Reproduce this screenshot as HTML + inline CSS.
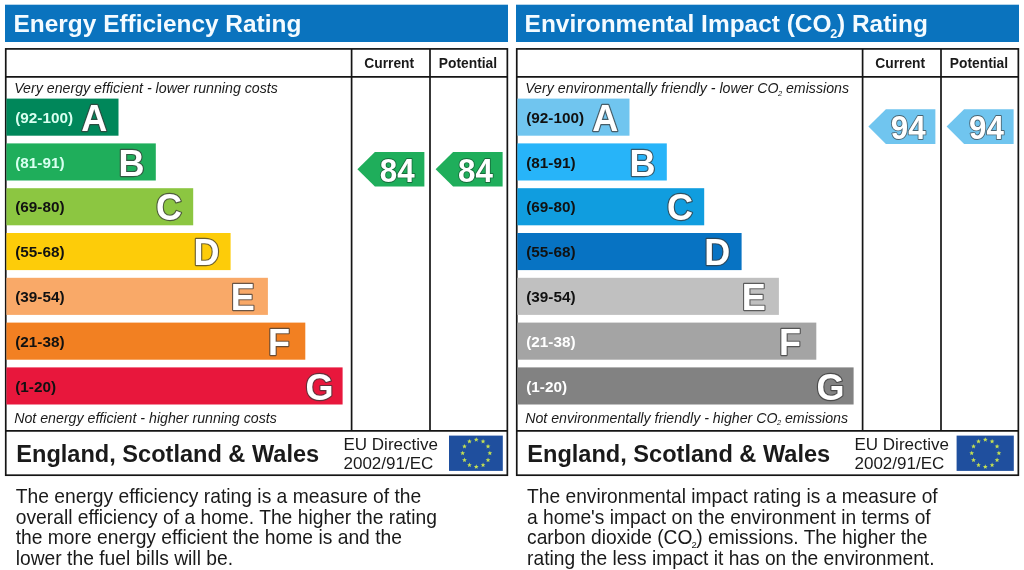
<!DOCTYPE html>
<html lang="en"><head><meta charset="utf-8"><title>Energy Performance Certificate</title>
<style>
html,body{margin:0;padding:0;background:#fff;}
body{width:1024px;height:570px;overflow:hidden;}
svg{display:block;font-family:"Liberation Sans", Arial, Helvetica, sans-serif;}
</style></head><body>
<svg width="1024" height="570" viewBox="0 0 1024 570">
<rect width="1024" height="570" fill="#fff"/>
<g fill="#1a1a1a">
<rect x="5" y="4.7" width="503" height="37.3" fill="#0a73be"/>
<text x="13.5" y="32.3" font-weight="bold" font-size="24.45" fill="#f4fbff">Energy Efficiency Rating</text>
<rect x="5.75" y="48.9" width="501.6" height="426.3" fill="#fff" stroke="#151515" stroke-width="1.7"/>
<line x1="5" y1="76.9" x2="508" y2="76.9" stroke="#151515" stroke-width="1.7"/>
<line x1="5" y1="430.8" x2="508" y2="430.8" stroke="#151515" stroke-width="1.7"/>
<line x1="351.6" y1="48.9" x2="351.6" y2="430.8" stroke="#151515" stroke-width="1.7"/>
<line x1="430" y1="48.9" x2="430" y2="430.8" stroke="#151515" stroke-width="1.7"/>
<text x="389.2" y="68.3" text-anchor="middle" font-weight="bold" font-size="13.8">Current</text>
<text x="468" y="68.3" text-anchor="middle" font-weight="bold" font-size="13.8">Potential</text>
<text x="14.2" y="93" font-style="italic" font-size="14.2">Very energy efficient - lower running costs</text>
<text x="14.2" y="422.6" font-style="italic" font-size="14.2">Not energy efficient - higher running costs</text>
<rect x="6.4" y="98.6" width="112.1" height="37.1" fill="#00875a"/>
<text x="15.2" y="122.8" font-weight="bold" font-size="15.3" fill="#d8fff0">(92-100)</text>
<text x="81.3" y="130.8" font-weight="bold" font-size="36" fill="#fff" stroke="#3a3a3a" stroke-opacity="0.75" stroke-width="2.3" paint-order="stroke" stroke-linejoin="round">A</text>
<rect x="6.4" y="143.4" width="149.4" height="37.1" fill="#1fae5b"/>
<text x="15.2" y="167.6" font-weight="bold" font-size="15.3" fill="#d8fff0">(81-91)</text>
<text x="118.6" y="175.6" font-weight="bold" font-size="36" fill="#fff" stroke="#3a3a3a" stroke-opacity="0.75" stroke-width="2.3" paint-order="stroke" stroke-linejoin="round">B</text>
<rect x="6.4" y="188.2" width="186.8" height="37.1" fill="#8cc641"/>
<text x="15.2" y="212.4" font-weight="bold" font-size="15.3" fill="#111">(69-80)</text>
<text x="156.0" y="220.4" font-weight="bold" font-size="36" fill="#fff" stroke="#3a3a3a" stroke-opacity="0.75" stroke-width="2.3" paint-order="stroke" stroke-linejoin="round">C</text>
<rect x="6.4" y="233.0" width="224.2" height="37.1" fill="#fdcc09"/>
<text x="15.2" y="257.2" font-weight="bold" font-size="15.3" fill="#111">(55-68)</text>
<text x="193.4" y="265.2" font-weight="bold" font-size="36" fill="#fff" stroke="#3a3a3a" stroke-opacity="0.75" stroke-width="2.3" paint-order="stroke" stroke-linejoin="round">D</text>
<rect x="6.4" y="277.8" width="261.5" height="37.1" fill="#f9a968"/>
<text x="15.2" y="302.0" font-weight="bold" font-size="15.3" fill="#111">(39-54)</text>
<text x="230.7" y="310.0" font-weight="bold" font-size="36" fill="#fff" stroke="#3a3a3a" stroke-opacity="0.75" stroke-width="2.3" paint-order="stroke" stroke-linejoin="round">E</text>
<rect x="6.4" y="322.6" width="298.9" height="37.1" fill="#f28022"/>
<text x="15.2" y="346.8" font-weight="bold" font-size="15.3" fill="#111">(21-38)</text>
<text x="268.1" y="354.8" font-weight="bold" font-size="36" fill="#fff" stroke="#3a3a3a" stroke-opacity="0.75" stroke-width="2.3" paint-order="stroke" stroke-linejoin="round">F</text>
<rect x="6.4" y="367.4" width="336.2" height="37.1" fill="#e8173c"/>
<text x="15.2" y="391.6" font-weight="bold" font-size="15.3" fill="#111">(1-20)</text>
<text x="305.4" y="399.6" font-weight="bold" font-size="36" fill="#fff" stroke="#3a3a3a" stroke-opacity="0.75" stroke-width="2.3" paint-order="stroke" stroke-linejoin="round">G</text>
<polygon points="357.4,169.2 374.9,152.0 424.4,152.0 424.4,186.6 374.9,186.6" fill="#1fae5b"/>
<text transform="translate(397.3,181.5) scale(0.95,1)" x="0" y="0" text-anchor="middle" font-weight="bold" font-size="33" fill="#fff" stroke="#14502e" stroke-opacity="0.7" stroke-width="1.8" paint-order="stroke" stroke-linejoin="round">84</text>
<polygon points="435.6,169.2 453.1,152.0 502.6,152.0 502.6,186.6 453.1,186.6" fill="#1fae5b"/>
<text transform="translate(475.5,181.5) scale(0.95,1)" x="0" y="0" text-anchor="middle" font-weight="bold" font-size="33" fill="#fff" stroke="#14502e" stroke-opacity="0.7" stroke-width="1.8" paint-order="stroke" stroke-linejoin="round">84</text>
<text x="16.3" y="461.7" font-weight="bold" font-size="23.57">England, Scotland &amp; Wales</text>
<text x="343.5" y="449.5" font-size="17">EU Directive</text>
<text x="343.5" y="468.5" font-size="17">2002/91/EC</text>
<rect x="449" y="435.6" width="53.8" height="35.3" fill="#1f4f9e"/>
<polygon points="476.25,437.15 476.90,438.76 478.63,438.88 477.30,439.99 477.72,441.67 476.25,440.75 474.78,441.67 475.20,439.99 473.87,438.88 475.60,438.76" fill="#c4e052"/>
<polygon points="483.05,438.97 483.70,440.58 485.43,440.70 484.10,441.81 484.52,443.49 483.05,442.57 481.58,443.49 482.00,441.81 480.67,440.70 482.40,440.58" fill="#c4e052"/>
<polygon points="488.03,443.95 488.67,445.56 490.41,445.68 489.07,446.79 489.50,448.47 488.03,447.55 486.56,448.47 486.98,446.79 485.65,445.68 487.38,445.56" fill="#c4e052"/>
<polygon points="489.85,450.75 490.50,452.36 492.23,452.48 490.90,453.59 491.32,455.27 489.85,454.35 488.38,455.27 488.80,453.59 487.47,452.48 489.20,452.36" fill="#c4e052"/>
<polygon points="488.03,457.55 488.67,459.16 490.41,459.28 489.07,460.39 489.50,462.07 488.03,461.15 486.56,462.07 486.98,460.39 485.65,459.28 487.38,459.16" fill="#c4e052"/>
<polygon points="483.05,462.53 483.70,464.14 485.43,464.26 484.10,465.37 484.52,467.05 483.05,466.13 481.58,467.05 482.00,465.37 480.67,464.26 482.40,464.14" fill="#c4e052"/>
<polygon points="476.25,464.35 476.90,465.96 478.63,466.08 477.30,467.19 477.72,468.87 476.25,467.95 474.78,468.87 475.20,467.19 473.87,466.08 475.60,465.96" fill="#c4e052"/>
<polygon points="469.45,462.53 470.10,464.14 471.83,464.26 470.50,465.37 470.92,467.05 469.45,466.13 467.98,467.05 468.40,465.37 467.07,464.26 468.80,464.14" fill="#c4e052"/>
<polygon points="464.47,457.55 465.12,459.16 466.85,459.28 465.52,460.39 465.94,462.07 464.47,461.15 463.00,462.07 463.43,460.39 462.09,459.28 463.83,459.16" fill="#c4e052"/>
<polygon points="462.65,450.75 463.30,452.36 465.03,452.48 463.70,453.59 464.12,455.27 462.65,454.35 461.18,455.27 461.60,453.59 460.27,452.48 462.00,452.36" fill="#c4e052"/>
<polygon points="464.47,443.95 465.12,445.56 466.85,445.68 465.52,446.79 465.94,448.47 464.47,447.55 463.00,448.47 463.43,446.79 462.09,445.68 463.83,445.56" fill="#c4e052"/>
<polygon points="469.45,438.97 470.10,440.58 471.83,440.70 470.50,441.81 470.92,443.49 469.45,442.57 467.98,443.49 468.40,441.81 467.07,440.70 468.80,440.58" fill="#c4e052"/>
<rect x="516" y="4.7" width="503" height="37.3" fill="#0a73be"/>
<text x="524.6" y="32.3" font-weight="bold" font-size="24.45" fill="#f4fbff">Environmental Impact (CO<tspan font-size="12.6" dy="5.7" dx="-1.2">2</tspan><tspan dy="-5.7" dx="-0.3">) Rating</tspan></text>
<rect x="516.75" y="48.9" width="501.6" height="426.3" fill="#fff" stroke="#151515" stroke-width="1.7"/>
<line x1="516" y1="76.9" x2="1019" y2="76.9" stroke="#151515" stroke-width="1.7"/>
<line x1="516" y1="430.8" x2="1019" y2="430.8" stroke="#151515" stroke-width="1.7"/>
<line x1="862.6" y1="48.9" x2="862.6" y2="430.8" stroke="#151515" stroke-width="1.7"/>
<line x1="941" y1="48.9" x2="941" y2="430.8" stroke="#151515" stroke-width="1.7"/>
<text x="900.2" y="68.3" text-anchor="middle" font-weight="bold" font-size="13.8">Current</text>
<text x="979" y="68.3" text-anchor="middle" font-weight="bold" font-size="13.8">Potential</text>
<text x="525.2" y="93" font-style="italic" font-size="14.2">Very environmentally friendly - lower CO<tspan font-size="7.5" dy="2.6" dx="-0.5">2</tspan><tspan dy="-2.6" dx="-0.2"> emissions</tspan></text>
<text x="525.2" y="422.6" font-style="italic" font-size="14.2">Not environmentally friendly - higher CO<tspan font-size="7.5" dy="2.6" dx="-0.5">2</tspan><tspan dy="-2.6" dx="-0.2"> emissions</tspan></text>
<rect x="517.4" y="98.6" width="112.1" height="37.1" fill="#70c5ef"/>
<text x="526.2" y="122.8" font-weight="bold" font-size="15.3" fill="#111">(92-100)</text>
<text x="592.3" y="130.8" font-weight="bold" font-size="36" fill="#fff" stroke="#3a3a3a" stroke-opacity="0.75" stroke-width="2.3" paint-order="stroke" stroke-linejoin="round">A</text>
<rect x="517.4" y="143.4" width="149.4" height="37.1" fill="#27b4f9"/>
<text x="526.2" y="167.6" font-weight="bold" font-size="15.3" fill="#111">(81-91)</text>
<text x="629.6" y="175.6" font-weight="bold" font-size="36" fill="#fff" stroke="#3a3a3a" stroke-opacity="0.75" stroke-width="2.3" paint-order="stroke" stroke-linejoin="round">B</text>
<rect x="517.4" y="188.2" width="186.8" height="37.1" fill="#109ddf"/>
<text x="526.2" y="212.4" font-weight="bold" font-size="15.3" fill="#111">(69-80)</text>
<text x="667.0" y="220.4" font-weight="bold" font-size="36" fill="#fff" stroke="#3a3a3a" stroke-opacity="0.75" stroke-width="2.3" paint-order="stroke" stroke-linejoin="round">C</text>
<rect x="517.4" y="233.0" width="224.2" height="37.1" fill="#0773c3"/>
<text x="526.2" y="257.2" font-weight="bold" font-size="15.3" fill="#111">(55-68)</text>
<text x="704.3" y="265.2" font-weight="bold" font-size="36" fill="#fff" stroke="#3a3a3a" stroke-opacity="0.75" stroke-width="2.3" paint-order="stroke" stroke-linejoin="round">D</text>
<rect x="517.4" y="277.8" width="261.5" height="37.1" fill="#c0c0c0"/>
<text x="526.2" y="302.0" font-weight="bold" font-size="15.3" fill="#111">(39-54)</text>
<text x="741.7" y="310.0" font-weight="bold" font-size="36" fill="#fff" stroke="#3a3a3a" stroke-opacity="0.75" stroke-width="2.3" paint-order="stroke" stroke-linejoin="round">E</text>
<rect x="517.4" y="322.6" width="298.9" height="37.1" fill="#a4a4a4"/>
<text x="526.2" y="346.8" font-weight="bold" font-size="15.3" fill="#fff">(21-38)</text>
<text x="779.0" y="354.8" font-weight="bold" font-size="36" fill="#fff" stroke="#3a3a3a" stroke-opacity="0.75" stroke-width="2.3" paint-order="stroke" stroke-linejoin="round">F</text>
<rect x="517.4" y="367.4" width="336.2" height="37.1" fill="#828282"/>
<text x="526.2" y="391.6" font-weight="bold" font-size="15.3" fill="#fff">(1-20)</text>
<text x="816.4" y="399.6" font-weight="bold" font-size="36" fill="#fff" stroke="#3a3a3a" stroke-opacity="0.75" stroke-width="2.3" paint-order="stroke" stroke-linejoin="round">G</text>
<polygon points="868.4,126.5 885.9,109.3 935.4,109.3 935.4,143.9 885.9,143.9" fill="#70c5ef"/>
<text transform="translate(908.3,138.8) scale(0.95,1)" x="0" y="0" text-anchor="middle" font-weight="bold" font-size="33" fill="#fff" stroke="#3a3a3a" stroke-opacity="0.7" stroke-width="1.8" paint-order="stroke" stroke-linejoin="round">94</text>
<polygon points="946.6,126.5 964.1,109.3 1013.6,109.3 1013.6,143.9 964.1,143.9" fill="#70c5ef"/>
<text transform="translate(986.5,138.8) scale(0.95,1)" x="0" y="0" text-anchor="middle" font-weight="bold" font-size="33" fill="#fff" stroke="#3a3a3a" stroke-opacity="0.7" stroke-width="1.8" paint-order="stroke" stroke-linejoin="round">94</text>
<text x="527.3" y="461.7" font-weight="bold" font-size="23.57">England, Scotland &amp; Wales</text>
<text x="854.5" y="449.5" font-size="17">EU Directive</text>
<text x="854.5" y="468.5" font-size="17">2002/91/EC</text>
<rect x="956.6" y="435.6" width="57.2" height="35.3" fill="#1f4f9e"/>
<polygon points="985.30,437.15 985.95,438.76 987.68,438.88 986.35,439.99 986.77,441.67 985.30,440.75 983.83,441.67 984.25,439.99 982.92,438.88 984.65,438.76" fill="#c4e052"/>
<polygon points="992.10,438.97 992.75,440.58 994.48,440.70 993.15,441.81 993.57,443.49 992.10,442.57 990.63,443.49 991.05,441.81 989.72,440.70 991.45,440.58" fill="#c4e052"/>
<polygon points="997.08,443.95 997.72,445.56 999.46,445.68 998.12,446.79 998.55,448.47 997.08,447.55 995.61,448.47 996.03,446.79 994.70,445.68 996.43,445.56" fill="#c4e052"/>
<polygon points="998.90,450.75 999.55,452.36 1001.28,452.48 999.95,453.59 1000.37,455.27 998.90,454.35 997.43,455.27 997.85,453.59 996.52,452.48 998.25,452.36" fill="#c4e052"/>
<polygon points="997.08,457.55 997.72,459.16 999.46,459.28 998.12,460.39 998.55,462.07 997.08,461.15 995.61,462.07 996.03,460.39 994.70,459.28 996.43,459.16" fill="#c4e052"/>
<polygon points="992.10,462.53 992.75,464.14 994.48,464.26 993.15,465.37 993.57,467.05 992.10,466.13 990.63,467.05 991.05,465.37 989.72,464.26 991.45,464.14" fill="#c4e052"/>
<polygon points="985.30,464.35 985.95,465.96 987.68,466.08 986.35,467.19 986.77,468.87 985.30,467.95 983.83,468.87 984.25,467.19 982.92,466.08 984.65,465.96" fill="#c4e052"/>
<polygon points="978.50,462.53 979.15,464.14 980.88,464.26 979.55,465.37 979.97,467.05 978.50,466.13 977.03,467.05 977.45,465.37 976.12,464.26 977.85,464.14" fill="#c4e052"/>
<polygon points="973.52,457.55 974.17,459.16 975.90,459.28 974.57,460.39 974.99,462.07 973.52,461.15 972.05,462.07 972.48,460.39 971.14,459.28 972.88,459.16" fill="#c4e052"/>
<polygon points="971.70,450.75 972.35,452.36 974.08,452.48 972.75,453.59 973.17,455.27 971.70,454.35 970.23,455.27 970.65,453.59 969.32,452.48 971.05,452.36" fill="#c4e052"/>
<polygon points="973.52,443.95 974.17,445.56 975.90,445.68 974.57,446.79 974.99,448.47 973.52,447.55 972.05,448.47 972.48,446.79 971.14,445.68 972.88,445.56" fill="#c4e052"/>
<polygon points="978.50,438.97 979.15,440.58 980.88,440.70 979.55,441.81 979.97,443.49 978.50,442.57 977.03,443.49 977.45,441.81 976.12,440.70 977.85,440.58" fill="#c4e052"/>
<g transform="scale(1,1.045)">
<text x="15.7" y="481.63" font-size="19.28">The energy efficiency rating is a measure of the</text>
<text x="15.7" y="501.34" font-size="19.28">overall efficiency of a home. The higher the rating</text>
<text x="15.7" y="521.05" font-size="19.28">the more energy efficient the home is and the</text>
<text x="15.7" y="540.77" font-size="19.28">lower the fuel bills will be.</text>
<text x="527.1" y="481.63" font-size="19.2">The environmental impact rating is a measure of</text>
<text x="527.1" y="501.34" font-size="19.2">a home&#39;s impact on the environment in terms of</text>
<text x="527.1" y="521.05" font-size="19.2">carbon dioxide (CO<tspan font-size="9.5" dy="3.5" dx="-1">2</tspan><tspan dy="-3.5" dx="-0.4">) emissions. The higher the</tspan></text>
<text x="527.1" y="540.77" font-size="19.2">rating the less impact it has on the environment.</text>
</g>
</g>
</svg>
</body></html>
